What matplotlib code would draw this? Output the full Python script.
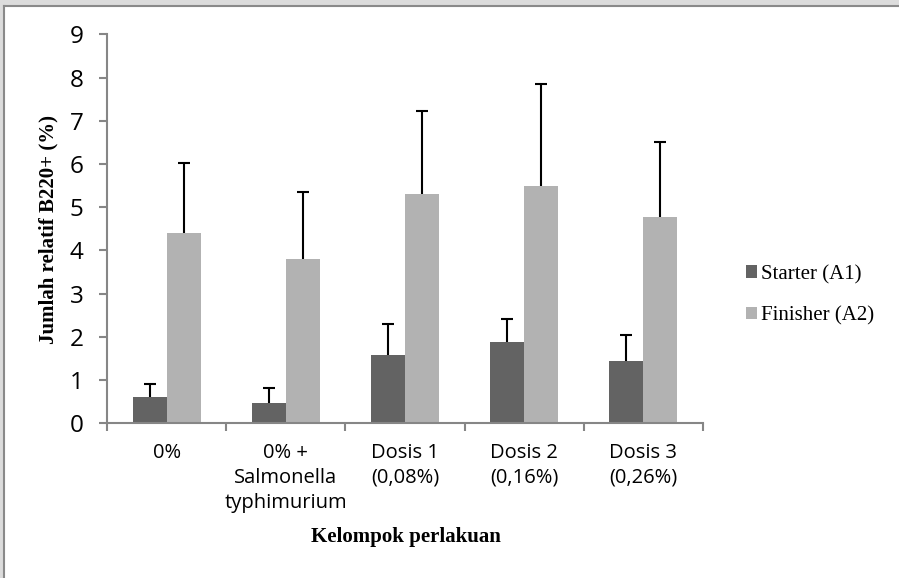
import matplotlib
matplotlib.use("Agg")
import matplotlib.pyplot as plt
import numpy as np
from matplotlib.patches import Rectangle
from matplotlib.lines import Line2D

categories = ["0%", "0% +\nSalmonella\ntyphimurium", "Dosis 1\n(0,08%)", "Dosis 2\n(0,16%)", "Dosis 3\n(0,26%)"]
starter = [0.62, 0.46, 1.57, 1.88, 1.44]
starter_sd = [0.29, 0.36, 0.72, 0.54, 0.60]
finisher = [4.40, 3.80, 5.31, 5.49, 4.78]
finisher_sd = [1.63, 1.55, 1.92, 2.35, 1.73]
series_names = ["Starter (A1)", "Finisher (A2)"]
yticks = list(range(0, 10))

fig = plt.figure(figsize=(8.99, 5.78), dpi=100)
fig.patch.set_facecolor("white")

# frame of the pasted chart
fig.patches.append(Rectangle((0, 1 - 5/578), 1, 5/578, transform=fig.transFigure,
                             facecolor="#dcdcdc", edgecolor="none", zorder=0))
fig.patches.append(Rectangle((0, 0), 3/899, 1, transform=fig.transFigure,
                             facecolor="#dcdcdc", edgecolor="none", zorder=0))
fig.add_artist(Line2D([3.5/899, 1], [1 - 5.5/578, 1 - 5.5/578], transform=fig.transFigure,
                      color="#8a8a8a", lw=1.5))
fig.add_artist(Line2D([3.5/899, 3.5/899], [0, 1 - 5.5/578], transform=fig.transFigure,
                      color="#8a8a8a", lw=1.5))

ax = fig.add_axes([107/899, 1 - 423.3/578, (703 - 107)/899, (423.3 - 34.3)/578])

x = np.arange(len(categories))
w = 0.285
ax.bar(x - w/2, starter, w, color="#636363", label=series_names[0], zorder=2)
ax.bar(x + w/2, finisher, w, color="#b2b2b2", label=series_names[1], zorder=2)

lower = [0] * len(categories)
for xs, vals, sd in [(x - w/2, starter, starter_sd), (x + w/2, finisher, finisher_sd)]:
    eb = ax.errorbar(xs, vals, yerr=[lower, sd], fmt="none", ecolor="black",
                     elinewidth=1.5, capsize=4.5, capthick=1.5, zorder=3)
    for cl in eb.lines[1]:
        if np.allclose(cl.get_ydata(), vals):
            cl.set_visible(False)

ax.set_xlim(-0.5, len(categories) - 0.5)
ax.set_ylim(0, 9)
ax.set_yticks(yticks)
ax.set_xticks(x)
ax.set_xticklabels(categories, fontsize=14.5, family="Open Sans", linespacing=1.33)
ax.set_xticks(np.arange(-0.5, len(categories)), minor=True)
ax.tick_params(axis="x", which="major", length=0, pad=14)
ax.tick_params(axis="x", which="minor", length=6, width=1.5, color="#868686", direction="out")
ax.tick_params(axis="y", length=6, width=1.5, color="#868686", direction="out", labelsize=17.5, pad=11)
for lab in ax.get_yticklabels():
    lab.set_family("Open Sans")

for s in ["top", "right"]:
    ax.spines[s].set_visible(False)
for s in ["left", "bottom"]:
    ax.spines[s].set_color("#868686")
    ax.spines[s].set_linewidth(1.5)

ax.set_ylabel("Jumlah relatif B220+ (%)", family="Liberation Serif", fontweight="bold",
              fontsize=15)
ax.yaxis.set_label_coords(58/899, 1 - 230/578, transform=fig.transFigure)
ax.set_xlabel("Kelompok perlakuan", family="Liberation Serif", fontweight="bold", fontsize=15)
ax.xaxis.set_label_coords((310 + 502) / 2 / 899, 1 - 537/578, transform=fig.transFigure)
ax.xaxis.label.set_va("center")

leg = ax.legend(loc="center left", bbox_to_anchor=(727/899, 1 - 295/578), bbox_transform=fig.transFigure,
                frameon=False, prop={"family": "Liberation Serif", "size": 15},
                handlelength=0.55, handleheight=0.55, handletextpad=0.2, labelspacing=1.05)

fig.savefig("out.png", dpi=100)
